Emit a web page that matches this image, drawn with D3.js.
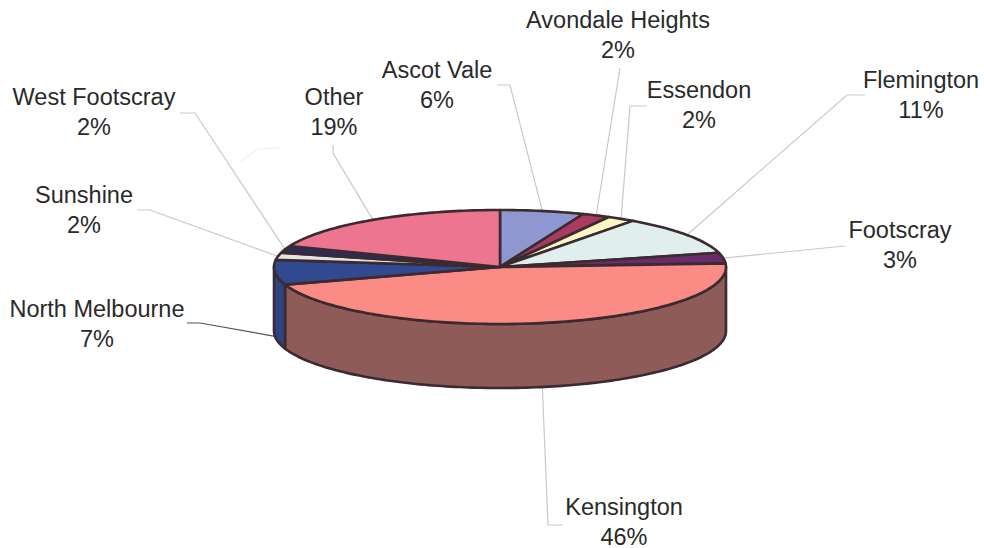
<!DOCTYPE html>
<html>
<head>
<meta charset="utf-8">
<script src="https://cdn.jsdelivr.net/npm/d3@7"></script>
<style>
html, body {margin: 0; padding: 0; background: #fff;}
svg {display: block;}
text {font-family: "Liberation Sans", Arial, sans-serif; font-size: 23.5px; fill: #2a2a2a;}
</style>
</head>
<body>
<svg id="chart" width="984" height="548"></svg>
<script>
var suburbs = ["Ascot Vale", "Avondale Heights", "Essendon", "Flemington", "Footscray", "Kensington", "North Melbourne", "Sunshine", "West Footscray", "Other"];
var shares = [6, 2, 2, 11, 3, 46, 7, 2, 2, 19];

var top_colours = ["#8e97cf", "#a93a62", "#fbf7c2", "#e0efee", "#6a2b6c", "#fb8b85", "#30498f", "#e4e4e4", "#2b2b5c", "#ee7590"];
var side_colours = ["#6f76a0", "#7e2c4a", "#c4c098", "#aebbba", "#4f2050", "#8f5b59", "#2c4580", "#a8a8a8", "#20204a", "#b5596e"];

// where each label sits, and the leader's path from the pie out to it
var label_pos = [[437, 78], [618, 28], [699, 98], [921, 88], [900, 238], [624, 515], [97, 317], [84, 203], [94, 105], [334, 105]];
var leader_ends = [
    [[510, 85], [497, 85]],
    [[620, 68]],
    [[630, 106], [647, 106]],
    [[847, 95], [865, 95]],
    [[845, 246]],
    [[548, 525], [563, 525]],
    [[200, 323], [187, 323]],
    [[150, 210], [137, 210]],
    [[195, 113], [180, 113]],
    [[333, 153], [333, 145]]
];

var cx = 500, cy = 267, rx = 226, ry = 57, depth = 64;
var outline = "#3b2a30";

var svg = d3.select("#chart");
var pie = d3.pie().sort(null).value(function(d) {return d})(shares);

function rim(t, drop) {
    return [cx + rx * Math.sin(t), cy - ry * Math.cos(t) + (drop || 0)];
}

function samples(a, b) {
    var n = Math.max(2, Math.ceil((b - a) / 0.02));
    return d3.range(n + 1).map(function(i) {return a + (b - a) * i / n});
}

var line = d3.line();

// leader lines go under the pie so they stop at its edge
var g_lead = svg.append("g");
pie.forEach(function(p, i) {
    var mid = (p.startAngle + p.endAngle) / 2;
    var front = Math.cos(mid) < -0.05;
    var pts = [rim(mid, front ? depth : 0)].concat(leader_ends[i]);
    g_lead.append("path")
	.attr("d", line(pts))
	.attr("fill", "none")
	.attr("stroke", suburbs[i] == "North Melbourne" ? "#555" : "#c9c9c9")
	.attr("stroke-width", 1.2);
});

// faint stray stroke left of Other
g_lead.append("path")
    .attr("d", line([[240, 162], [258, 149], [280, 148]]))
    .attr("fill", "none")
    .attr("stroke", "#f1f1f1")
    .attr("stroke-width", 1.2);

// side wall, only the front half of the ellipse shows
var g_side = svg.append("g");
pie.forEach(function(p, i) {
    var a = Math.max(p.startAngle, Math.PI / 2),
	b = Math.min(p.endAngle, 3 * Math.PI / 2);
    if (a >= b) {return}
    var ts = samples(a, b);
    var pts = ts.map(function(t) {return rim(t)})
	.concat(ts.slice().reverse().map(function(t) {return rim(t, depth)}));
    g_side.append("path")
	.attr("d", line(pts) + "Z")
	.attr("fill", side_colours[i])
	.attr("stroke", outline)
	.attr("stroke-width", 2.6)
	.attr("stroke-linejoin", "round");
});

// top face
var g_top = svg.append("g");
pie.forEach(function(p, i) {
    var pts = [[cx, cy]].concat(samples(p.startAngle, p.endAngle).map(function(t) {return rim(t)}));
    g_top.append("path")
	.attr("d", line(pts) + "Z")
	.attr("fill", top_colours[i])
	.attr("stroke", outline)
	.attr("stroke-width", 2.6)
	.attr("stroke-linejoin", "round");
});

// labels
var g_text = svg.append("g");
suburbs.forEach(function(name, i) {
    var t = g_text.append("text")
	.attr("x", label_pos[i][0])
	.attr("y", label_pos[i][1])
	.attr("text-anchor", "middle");
    t.append("tspan").attr("x", label_pos[i][0]).text(name);
    t.append("tspan").attr("x", label_pos[i][0]).attr("dy", 29.5).text(shares[i] + "%");
});
</script>
</body>
</html>
